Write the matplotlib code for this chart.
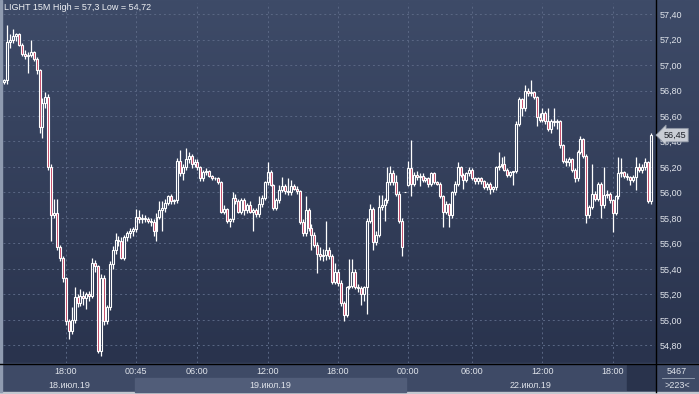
import numpy as np
import matplotlib.pyplot as plt
from matplotlib.colors import LinearSegmentedColormap
from matplotlib.patches import Rectangle
from matplotlib.transforms import blended_transform_factory

plt.rcParams['font.family'] = ['Liberation Sans', 'DejaVu Sans']

# 15 minute bars, LIGHT, 18-22 July 2019
opens = [56.87, 56.88, 57.18, 57.20, 57.23, 57.24, 57.16, 57.09, 57.07, 57.08,
         57.10, 57.05, 56.96, 56.51, 56.70, 56.75, 56.20, 55.82, 55.84, 55.57,
         55.49, 55.33, 54.99, 54.91, 55.00, 55.18, 55.13, 55.19, 55.17, 55.20,
         55.19, 55.45, 55.42, 54.76, 55.33, 54.99, 55.10, 55.44, 55.55, 55.63,
         55.62, 55.49, 55.65, 55.68, 55.70, 55.71, 55.81, 55.79, 55.80, 55.79,
         55.78, 55.77, 55.70, 55.81, 55.86, 55.88, 55.92, 55.97, 55.93, 55.94,
         56.25, 56.15, 56.20, 56.26, 56.29, 56.22, 56.24, 56.20, 56.11, 56.16,
         56.17, 56.13, 56.11, 56.11, 56.08, 55.85, 55.87, 55.78, 55.79, 55.96,
         55.93, 55.85, 55.94, 55.86, 55.90, 55.85, 55.86, 55.83, 55.91, 55.96,
         56.08, 56.16, 56.06, 55.88, 55.94, 56.02, 56.05, 56.01, 56.00, 56.05,
         56.03, 56.01, 55.77, 55.68, 55.86, 55.72, 55.67, 55.59, 55.52, 55.50,
         55.51, 55.55, 55.50, 55.30, 55.38, 55.29, 55.13, 55.04, 55.26, 55.27,
         55.38, 55.26, 55.25, 55.20, 55.26, 55.78, 55.87, 55.61, 55.67, 55.89,
         55.90, 55.94, 56.08, 56.15, 56.08, 55.99, 55.78, 56.00, 56.06, 56.19,
         56.07, 56.14, 56.12, 56.13, 56.10, 56.11, 56.07, 56.15, 56.08, 56.07,
         55.97, 55.85, 55.91, 55.82, 56.00, 56.07, 56.20, 56.14, 56.10, 56.15,
         56.18, 56.11, 56.09, 56.11, 56.09, 56.04, 56.07, 56.03, 56.04, 56.20,
         56.21, 56.22, 56.18, 56.14, 56.16, 56.17, 56.54, 56.73, 56.66, 56.80,
         56.78, 56.79, 56.75, 56.59, 56.57, 56.62, 56.56, 56.50, 56.56, 56.55,
         56.56, 56.37, 56.25, 56.24, 56.26, 56.18, 56.11, 56.32, 56.42, 56.29,
         55.82, 55.89, 55.99, 55.95, 56.07, 55.90, 55.98, 55.99, 55.94, 55.84,
         55.97, 56.15, 56.16, 56.13, 56.12, 56.10, 56.12, 56.20, 56.18, 56.20,
         56.24, 55.93]
highs = [56.89, 57.31, 57.24, 57.28, 57.25, 57.25, 57.17, 57.12, 57.10, 57.20,
         57.11, 57.06, 56.97, 56.74, 56.79, 56.77, 56.22, 55.95, 55.95, 55.59,
         55.50, 55.34, 55.01, 55.10, 55.26, 55.20, 55.24, 55.23, 55.22, 55.23,
         55.49, 55.47, 55.43, 55.36, 55.35, 55.12, 55.46, 55.58, 55.68, 55.66,
         55.65, 55.67, 55.70, 55.72, 55.73, 55.87, 55.86, 55.83, 55.82, 55.81,
         55.80, 55.79, 55.84, 55.93, 55.93, 55.95, 55.98, 55.99, 55.95, 56.27,
         56.33, 56.22, 56.35, 56.32, 56.30, 56.26, 56.26, 56.21, 56.18, 56.19,
         56.18, 56.14, 56.12, 56.12, 56.09, 55.90, 55.88, 55.80, 56.00, 55.99,
         55.95, 55.96, 55.96, 55.92, 55.93, 55.88, 55.88, 55.97, 55.98, 56.09,
         56.24, 56.18, 56.07, 55.96, 56.06, 56.12, 56.07, 56.11, 56.10, 56.07,
         56.05, 56.02, 55.79, 55.97, 55.88, 55.75, 55.69, 55.61, 55.57, 55.56,
         55.78, 55.57, 55.52, 55.45, 55.40, 55.31, 55.15, 55.27, 55.48, 55.48,
         55.40, 55.28, 55.27, 55.27, 55.80, 55.91, 55.89, 55.70, 55.98, 55.98,
         55.96, 56.20, 56.21, 56.18, 56.14, 56.01, 55.80, 56.00, 56.25, 56.41,
         56.16, 56.17, 56.15, 56.15, 56.12, 56.12, 56.16, 56.16, 56.09, 56.08,
         55.98, 55.93, 55.92, 56.01, 56.09, 56.24, 56.21, 56.15, 56.16, 56.20,
         56.19, 56.12, 56.12, 56.12, 56.10, 56.08, 56.08, 56.05, 56.21, 56.32,
         56.28, 56.29, 56.19, 56.17, 56.17, 56.56, 56.75, 56.74, 56.84, 56.82,
         56.88, 56.80, 56.76, 56.62, 56.66, 56.64, 56.66, 56.58, 56.66, 56.58,
         56.57, 56.38, 56.27, 56.28, 56.27, 56.19, 56.33, 56.44, 56.43, 56.30,
         55.90, 56.22, 56.01, 56.08, 56.08, 56.20, 56.02, 56.00, 55.95, 55.98,
         56.28, 56.27, 56.17, 56.15, 56.13, 56.14, 56.28, 56.23, 56.22, 56.27,
         56.25, 56.47]
lows = [56.85, 56.85, 57.13, 57.17, 57.19, 57.15, 57.07, 57.05, 56.94, 57.06,
        57.03, 56.93, 56.47, 56.43, 56.66, 56.18, 55.62, 55.80, 55.55, 55.46,
        55.30, 54.96, 54.85, 54.89, 54.98, 55.10, 55.11, 55.12, 55.09, 55.15,
        55.17, 55.38, 54.74, 54.72, 54.96, 54.97, 55.08, 55.40, 55.52, 55.58,
        55.48, 55.47, 55.62, 55.64, 55.66, 55.69, 55.76, 55.76, 55.77, 55.76,
        55.74, 55.66, 55.62, 55.79, 55.70, 55.85, 55.90, 55.91, 55.91, 55.92,
        56.13, 56.10, 56.18, 56.23, 56.19, 56.20, 56.18, 56.09, 56.09, 56.14,
        56.12, 56.10, 56.10, 56.07, 55.84, 55.83, 55.76, 55.73, 55.77, 55.91,
        55.84, 55.83, 55.82, 55.84, 55.84, 55.70, 55.81, 55.81, 55.89, 55.94,
        56.06, 56.05, 55.86, 55.86, 55.92, 56.00, 55.99, 55.98, 55.98, 56.02,
        55.99, 55.75, 55.66, 55.66, 55.70, 55.55, 55.57, 55.37, 55.47, 55.46,
        55.47, 55.48, 55.28, 55.28, 55.27, 55.11, 54.99, 55.02, 55.24, 55.25,
        55.24, 55.22, 55.12, 55.15, 55.05, 55.76, 55.55, 55.59, 55.65, 55.86,
        55.78, 55.92, 56.06, 56.06, 55.97, 55.76, 55.50, 56.00, 56.05, 55.97,
        56.05, 56.10, 56.05, 56.08, 56.08, 56.04, 56.05, 56.07, 56.06, 55.96,
        55.73, 55.83, 55.73, 55.80, 55.98, 56.05, 56.12, 56.03, 56.08, 56.13,
        56.10, 56.07, 56.07, 56.07, 56.03, 56.02, 55.99, 56.00, 56.02, 56.18,
        56.19, 56.17, 56.12, 56.12, 56.06, 56.15, 56.52, 56.60, 56.64, 56.76,
        56.76, 56.73, 56.52, 56.55, 56.55, 56.54, 56.48, 56.47, 56.52, 56.50,
        56.35, 56.23, 56.21, 56.21, 56.16, 56.08, 56.09, 56.30, 56.27, 55.76,
        55.80, 55.87, 55.93, 55.93, 55.80, 55.88, 55.96, 55.92, 55.69, 55.82,
        55.95, 56.12, 56.11, 56.10, 56.06, 56.08, 56.02, 56.16, 56.15, 56.18,
        55.92, 55.91]
closes = [56.88, 57.18, 57.20, 57.23, 57.24, 57.16, 57.09, 57.07, 57.08, 57.10,
          57.05, 56.96, 56.51, 56.70, 56.75, 56.20, 55.82, 55.84, 55.57, 55.49,
          55.33, 54.99, 54.91, 55.00, 55.18, 55.13, 55.19, 55.17, 55.20, 55.19,
          55.45, 55.42, 54.76, 55.33, 54.99, 55.10, 55.44, 55.55, 55.63, 55.62,
          55.49, 55.65, 55.68, 55.70, 55.71, 55.81, 55.79, 55.80, 55.79, 55.78,
          55.77, 55.70, 55.81, 55.86, 55.88, 55.92, 55.97, 55.93, 55.94, 56.25,
          56.15, 56.20, 56.26, 56.29, 56.22, 56.24, 56.20, 56.11, 56.16, 56.17,
          56.13, 56.11, 56.11, 56.08, 55.85, 55.87, 55.78, 55.79, 55.96, 55.93,
          55.85, 55.94, 55.86, 55.90, 55.85, 55.86, 55.83, 55.91, 55.96, 56.08,
          56.16, 56.06, 55.88, 55.94, 56.02, 56.05, 56.01, 56.00, 56.05, 56.03,
          56.01, 55.77, 55.68, 55.86, 55.72, 55.67, 55.59, 55.52, 55.50, 55.51,
          55.55, 55.50, 55.30, 55.38, 55.29, 55.13, 55.04, 55.26, 55.27, 55.38,
          55.26, 55.25, 55.20, 55.26, 55.78, 55.87, 55.61, 55.67, 55.89, 55.90,
          55.94, 56.08, 56.15, 56.08, 55.99, 55.78, 55.57, 56.00, 56.19, 56.07,
          56.14, 56.12, 56.13, 56.10, 56.11, 56.07, 56.15, 56.08, 56.07, 55.97,
          55.85, 55.91, 55.82, 56.00, 56.07, 56.20, 56.14, 56.10, 56.15, 56.18,
          56.11, 56.09, 56.11, 56.09, 56.04, 56.07, 56.03, 56.04, 56.20, 56.21,
          56.22, 56.18, 56.14, 56.16, 56.17, 56.54, 56.73, 56.66, 56.80, 56.78,
          56.79, 56.75, 56.59, 56.57, 56.62, 56.56, 56.50, 56.56, 56.55, 56.56,
          56.37, 56.25, 56.24, 56.26, 56.18, 56.11, 56.32, 56.42, 56.29, 55.82,
          55.89, 55.99, 55.95, 56.07, 55.90, 55.98, 55.99, 55.94, 55.84, 55.97,
          56.15, 56.16, 56.13, 56.12, 56.10, 56.12, 56.20, 56.18, 56.20, 56.24,
          55.93, 56.45]

time_pos = [21, 45, 66, 90, 114, 138, 160, 184, 208]
time_lbl = ["18:00", "00:45", "06:00", "12:00", "18:00", "00:00", "06:00", "12:00", "18:00"]
day_edges = [-0.5, 44.5, 137.5, 222.5]
day_lbl = ["18.июл.19", "19.июл.19", "22.июл.19"]
price_ticks = [54.8, 55.0, 55.2, 55.4, 55.6, 55.8, 56.0, 56.2, 56.4, 56.6, 56.8, 57.0, 57.2, 57.4]
last_price = 56.45
title = "LIGHT 15M High = 57,3 Low = 54,72"
bars_shown = "5467"
bars_count = ">223<"

W, H = 699, 394
fig = plt.figure(figsize=(W / 100, H / 100), dpi=100)
txt = '#dfe3ea'

# background in pixel coordinates
bg = fig.add_axes([0, 0, 1, 1])
bg.set_xlim(0, W)
bg.set_ylim(H, 0)
bg.set_axis_off()
cmap = LinearSegmentedColormap.from_list('bg', ['#3e4b68', '#29334d'])
bg.imshow(np.linspace(0, 1, 256).reshape(-1, 1), cmap=cmap, aspect='auto',
          extent=[0, W, 363, 0], zorder=0)
bg.add_patch(Rectangle((0, 363), W, 29, color='#3e4a66', zorder=1))
bg.add_patch(Rectangle((627, 365), 28, 25, color='#29334c', zorder=2))
bg.add_patch(Rectangle((0, 392), W, 2, color='#c3c8d0', zorder=3))
bg.add_patch(Rectangle((0, 0), 2, 392, color='#8f9bb0', zorder=3))
bg.plot([655.5, 655.5], [0, 392], color='black', lw=1, zorder=4)
bg.plot([0, 699], [363.5, 363.5], color='black', lw=1, zorder=4)
bg.plot([662, 694], [378, 378], color='#9aa4b6', lw=0.6, zorder=4)
bg.text(677, 371, bars_shown, ha='center', va='center', fontsize=6.5, color=txt, zorder=5)
bg.text(677, 385, bars_count, ha='center', va='center', fontsize=6.5, color=txt, zorder=5)
bg.text(4, 3, title, ha='left', va='top', fontsize=6.5, color='#eef0f4', zorder=5)

# main chart
ax = fig.add_axes([3 / W, 31 / H, 652 / W, 360 / H])
ax.patch.set_alpha(0)
ax.set_xlim(-0.5, 222.5)
ax.set_ylim(54.6627, 57.4863)
for s in ax.spines.values():
    s.set_visible(False)

# lighter band under the 19 July label
xt = ax.get_xaxis_transform()
ax.add_patch(Rectangle((day_edges[1], -29 / 360), day_edges[2] - day_edges[1], 14 / 360,
                       transform=xt, color='#515d79', clip_on=False, zorder=0))

o = np.array(opens)
h = np.array(highs)
l = np.array(lows)
c = np.array(closes)
x = np.arange(len(c))
top = np.maximum(o, c)
bot = np.minimum(o, c)
up = c >= o
ax.vlines(x, top, h, color='white', lw=0.9, zorder=3)
ax.vlines(x, l, bot, color='white', lw=0.9, zorder=3)
ax.bar(x[up], (top - bot)[up], bottom=bot[up], width=0.68, facecolor='none',
       edgecolor='white', linewidth=0.8, zorder=4)
ax.bar(x[~up], (top - bot)[~up], bottom=bot[~up], width=0.68, facecolor='#c2405f',
       edgecolor='white', linewidth=0.8, zorder=4)

# axes, grid
ax.yaxis.tick_right()
ax.set_yticks(price_ticks)
ax.set_yticklabels([f"{v:.2f}".replace('.', ',') for v in price_ticks])
ax.tick_params(axis='y', length=0, pad=3, labelsize=6.5, labelcolor=txt)
ax.set_xticks(time_pos, time_lbl)
ax.set_xticks([(day_edges[i] + day_edges[i + 1]) / 2 for i in range(3)], day_lbl, minor=True)
ax.tick_params(axis='x', which='major', length=0, pad=3, labelsize=6.5, labelcolor=txt)
ax.tick_params(axis='x', which='minor', length=0, pad=13, labelsize=6.5, labelcolor=txt)
ax.grid(True, which='major', color='#5a6784', lw=0.7, ls=(0, (2, 3)), zorder=1)

# last price marker
ax.annotate("56,45", xy=(1, last_price),
            xycoords=blended_transform_factory(ax.transAxes, ax.transData),
            xytext=(6, 0), textcoords='offset points', ha='left', va='center',
            fontsize=6.5, color='#1a1e26', annotation_clip=False, zorder=10,
            bbox=dict(boxstyle='larrow,pad=0.25', fc='#c9cdd5', ec='#8d95a3', lw=0.6))

fig.savefig('out.png', dpi=100)
